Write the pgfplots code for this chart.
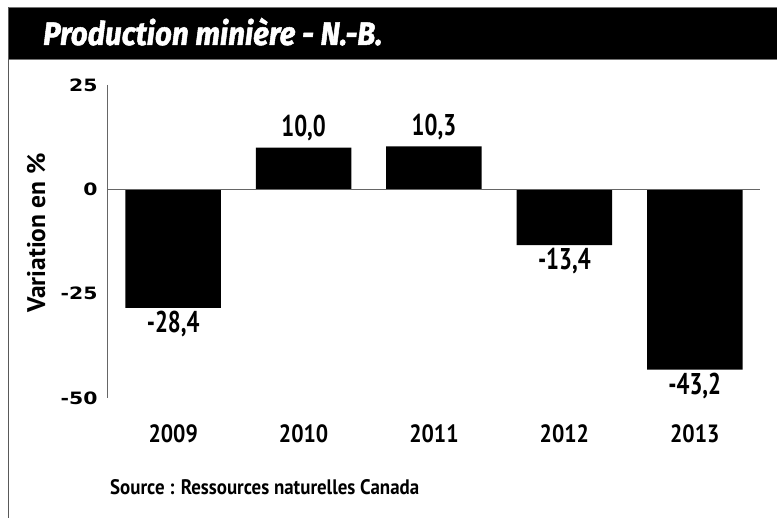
\documentclass[border=0pt]{standalone}
\usepackage{fontspec}
\setmainfont{PT Sans}
\usepackage{pgfplots}
\usepackage{pgfplotstable}
\pgfplotsset{compat=1.18}
\newfontfamily\condfont{PT Sans}[FakeStretch=0.76]
\newfontfamily\yearfont{PT Sans}[FakeStretch=0.87]
\newfontfamily\tickfont{DejaVu Sans}[FakeStretch=1.2]
\newfontfamily\titlefont{Fira Sans}[FakeStretch=0.91, FakeBold=1.5]
\newfontfamily\srcfont{PT Sans}[FakeStretch=0.9]
\pgfplotstableread{
x y label
1 10.0 10,0
2 10.3 10,3
}\postable
\pgfplotstableread{
x y label
0 -28.4 -28,4
3 -13.4 -13,4
4 -43.2 -43,2
}\negtable
\begin{document}
\begin{tikzpicture}[x=1pt,y=1pt]
\path[use as bounding box, fill=white] (0,0) rectangle (777,518);
\fill[black] (8,459) rectangle (777,509.5);
\draw[black!55, line width=1pt] (8,510) -- (777,510);
\draw[black!55, line width=1pt] (8,458.5) -- (777,458.5);
\draw[black!65, line width=1.3pt] (8.5,510.5) -- (8.5,0);
\node[anchor=base west, inner sep=0pt, text=white] at (43,473)
  {\titlefont\fontsize{32.5}{38}\selectfont\bfseries\itshape Production minière - N.-B.};
\begin{axis}[
  at={(108pt,120pt)}, anchor=south west,
  scale only axis, width=652pt, height=313pt,
  xmin=-0.5, xmax=4.5, ymin=-50, ymax=25,
  ybar, bar width=95.5pt, bar shift=0pt,
  axis lines=left, axis line style={draw=none,-},
  major tick length=0pt,
  xtick={0,1,2,3,4},
  xticklabels={2009,2010,2011,2012,2013},
  xticklabel style={font=\yearfont\fontsize{25}{30}\selectfont\bfseries, yshift=-23pt},
  ytick={-50,-25,0,25},
  yticklabels={-50,-25,0,25},
  yticklabel style={font=\tickfont\fontsize{17}{20}\selectfont\bfseries, anchor=east, xshift=-7pt},
  ylabel={Variation en \%},
  ylabel style={font=\fontsize{25.5}{30}\selectfont\bfseries, at={(axis description cs:-0.110,0.527)}, anchor=center},
  nodes near coords,
  point meta=explicit symbolic,
  every node near coord/.append style={font=\condfont\fontsize{30}{34}\selectfont\bfseries, inner sep=3pt},
  clip=false,
]
\addplot[fill=black, draw=none, every node near coord/.append style={yshift=3pt}] table[x=x, y=y, meta=label]{\postable};
\addplot[fill=black, draw=none, every node near coord/.append style={anchor=north}] table[x=x, y=y, meta=label]{\negtable};
\draw[black!60, line width=1pt] (axis cs:-0.5,25) -- (axis cs:-0.5,-50);
\draw[black!60, line width=1pt] (axis cs:-0.5,0) -- (axis cs:4.5,0);
\end{axis}
\node[anchor=base west, inner sep=0pt] at (110,23)
  {\srcfont\fontsize{21}{25}\selectfont\bfseries Source : Ressources naturelles Canada};
\end{tikzpicture}
\end{document}
